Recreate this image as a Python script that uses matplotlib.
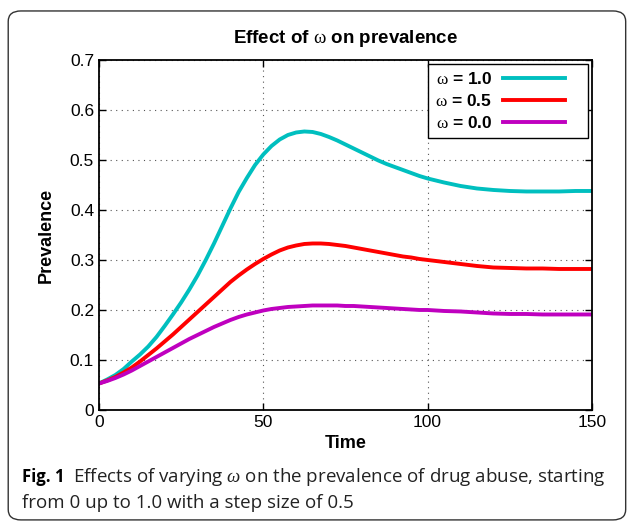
import matplotlib
matplotlib.use("Agg")
import matplotlib.pyplot as plt
from matplotlib.patches import FancyBboxPatch
from matplotlib.legend_handler import HandlerLine2D

time = [0, 2.5, 5, 7.5, 10, 12.5, 15, 17.5, 20, 22.5, 25, 27.5, 30, 32.5, 35, 37.5,
        40, 42.5, 45, 47.5, 50, 52.5, 55, 57.5, 60, 62.5, 65, 67.5, 70, 72.5, 75, 77.5,
        80, 82.5, 85, 87.5, 90, 92.5, 95, 97.5, 100, 105, 110, 115, 120, 125, 130, 135,
        140, 145, 150]
prev_w10 = [0.053, 0.061, 0.070, 0.082, 0.097, 0.111, 0.127, 0.146, 0.168, 0.191, 0.215,
            0.241, 0.269, 0.300, 0.333, 0.368, 0.403, 0.436, 0.464, 0.490, 0.511, 0.528,
            0.541, 0.550, 0.555, 0.557, 0.556, 0.552, 0.546, 0.539, 0.531, 0.523, 0.515,
            0.507, 0.499, 0.492, 0.486, 0.480, 0.474, 0.468, 0.463, 0.455, 0.448, 0.443,
            0.440, 0.438, 0.437, 0.437, 0.437, 0.438, 0.438]
prev_w05 = [0.053, 0.059, 0.066, 0.075, 0.085, 0.097, 0.110, 0.123, 0.137, 0.151, 0.166,
            0.181, 0.196, 0.211, 0.226, 0.241, 0.256, 0.269, 0.281, 0.292, 0.302, 0.311,
            0.319, 0.325, 0.329, 0.332, 0.333, 0.333, 0.332, 0.330, 0.328, 0.325, 0.322,
            0.319, 0.316, 0.313, 0.310, 0.307, 0.305, 0.302, 0.300, 0.296, 0.292, 0.288,
            0.285, 0.284, 0.283, 0.283, 0.282, 0.282, 0.282]
prev_w00 = [0.053, 0.058, 0.064, 0.071, 0.079, 0.088, 0.097, 0.106, 0.115, 0.124, 0.133,
            0.142, 0.150, 0.158, 0.166, 0.173, 0.180, 0.186, 0.191, 0.195, 0.199, 0.202,
            0.204, 0.206, 0.207, 0.208, 0.209, 0.209, 0.209, 0.209, 0.208, 0.208, 0.207,
            0.206, 0.205, 0.204, 0.203, 0.202, 0.201, 0.200, 0.200, 0.198, 0.197, 0.195,
            0.193, 0.192, 0.192, 0.191, 0.191, 0.191, 0.191]
labels = [r"$\mathrm{\omega}$ = 1.0", r"$\mathrm{\omega}$ = 0.5", r"$\mathrm{\omega}$ = 0.0"]
colors = ["#00BFBF", "#FF0000", "#BF00BF"]
xticks = [0, 50, 100, 150]
yticks = [0, 0.1, 0.2, 0.3, 0.4, 0.5, 0.6, 0.7]
ytick_labels = ["0", "0.1", "0.2", "0.3", "0.4", "0.5", "0.6", "0.7"]

plt.rcParams["font.family"] = ["Liberation Sans", "DejaVu Sans"]
plt.rcParams["mathtext.fontset"] = "custom"
plt.rcParams["mathtext.rm"] = "Liberation Serif"
plt.rcParams["mathtext.it"] = "Liberation Serif:italic"


class ShortLine(HandlerLine2D):
    # legend line only fills the left part of the handle box (gnuplot style gap)
    def create_artists(self, legend, orig_handle, xdescent, ydescent, width, height, fontsize, trans):
        return super().create_artists(legend, orig_handle, xdescent, ydescent,
                                      width * 0.8, height, fontsize, trans)


fig = plt.figure(figsize=(6.32, 5.22), dpi=100)
ax = fig.add_axes([0.1566, 0.2146, 0.780, 0.6705])

for y, lab, c in zip([prev_w10, prev_w05, prev_w00], labels, colors):
    ax.plot(time, y, color=c, lw=2.8, label=lab)

ax.set_xlim(0, 150)
ax.set_ylim(0, 0.7)
ax.set_xticks(xticks)
ax.set_yticks(yticks)
ax.set_yticklabels(ytick_labels)
ax.tick_params(direction="in", top=True, right=True, labelsize=12.5, length=5, width=1)
ax.grid(True, color="#555555", linestyle=(0, (1, 4)), linewidth=0.8)
for s in ax.spines.values():
    s.set_linewidth(1.3)

ax.set_title(r"Effect of $\mathrm{\omega}$ on prevalence", fontsize=13.5, fontweight="bold", pad=12)
ax.set_xlabel("Time", fontsize=13, fontweight="bold", labelpad=4)
ax.set_ylabel("Prevalence", fontsize=13, fontweight="bold", labelpad=11)

leg = ax.legend(loc="upper right", markerfirst=False, fancybox=False, framealpha=1,
                edgecolor="black", prop={"weight": "bold", "size": 12.5},
                handlelength=4.5, handletextpad=0.6, borderaxespad=0.25, labelspacing=0.35,
                borderpad=0.4, handler_map={plt.Line2D: ShortLine()})
leg.get_frame().set_linewidth(1.0)

box = FancyBboxPatch((0.013, 0.004), 0.977, 0.975, transform=fig.transFigure,
                     boxstyle="round,pad=0,rounding_size=0.02", fill=False,
                     edgecolor="#333333", linewidth=1.0)
fig.patches.append(box)

fig.text(0.035, 0.077, "Fig. 1", fontsize=12, fontweight="bold", family="Open Sans")
fig.text(0.1155, 0.077, r"Effects of varying $\it{\omega}$ on the prevalence of drug abuse, starting",
         fontsize=13.5, family="Open Sans", color="#222222")
fig.text(0.035, 0.027, "from 0 up to 1.0 with a step size of 0.5",
         fontsize=13.5, family="Open Sans", color="#222222")

fig.savefig("out.png", dpi=100)
